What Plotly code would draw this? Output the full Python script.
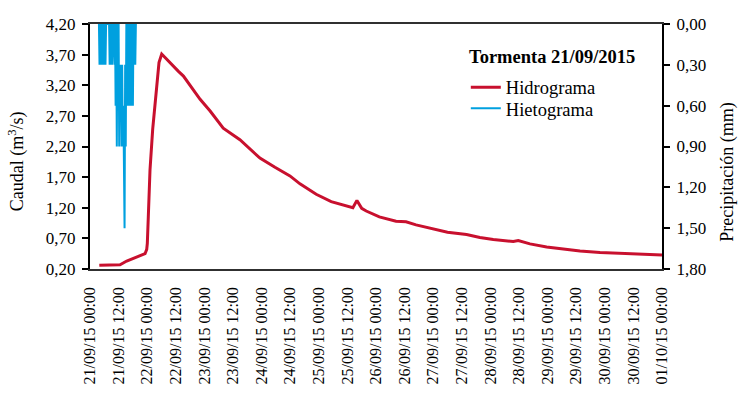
import pandas as pd
import plotly.graph_objects as go

# ---- data ----
start = pd.Timestamp("2015-09-21 00:00")

# Hidrograma: hours since 21/09/15 00:00 and flow (m3/s)
q_hours = [3.9, 8.0, 12.6, 15.4, 19.6, 21.0, 23.1, 23.8, 24.05, 24.46,
           25.18, 26.3, 27.57, 28.95, 30.09, 32.2, 35.0, 37.0, 39.2, 42.0,
           46.2, 50.4, 55.9, 62.9, 71.3, 77.6, 83.9, 88.1, 92.1, 94.9,
           101.2, 106.1, 110.3, 112.0, 114.0, 115.9, 121.4, 128.4, 132.6, 136.8,
           143.8, 150.0, 158.0, 163.6, 169.2, 174.8, 177.6, 179.7, 184.6, 191.6,
           197.2, 205.6, 214.0, 222.4, 230.8, 240.0]
q_values = [0.26, 0.26, 0.27, 0.33, 0.39, 0.41, 0.45, 0.52, 0.62, 1.05,
            1.82, 2.48, 3.02, 3.57, 3.71, 3.62, 3.51, 3.43, 3.35, 3.19,
            2.97, 2.78, 2.50, 2.31, 2.01, 1.86, 1.72, 1.59, 1.49, 1.42,
            1.30, 1.245, 1.20, 1.32, 1.19, 1.147, 1.05, 0.98, 0.97, 0.92,
            0.85, 0.80, 0.764, 0.715, 0.68, 0.655, 0.65, 0.666, 0.61, 0.56,
            0.53, 0.495, 0.47, 0.46, 0.445, 0.43]

# Hietograma: 15-min readings (hours since start) and precipitation (mm)
p_hours = [3.75, 4.0, 4.25, 4.5, 4.75, 5.0, 5.25, 5.5, 5.75, 6.0,
           6.25, 6.5, 6.75, 7.0, 7.25, 7.5, 7.75, 8.0, 8.25, 8.5,
           8.75, 9.0, 9.25, 9.5, 9.75, 10.0, 10.25, 10.5, 10.75, 11.0,
           11.25, 11.5, 11.75, 12.0, 12.25, 12.5, 12.75, 13.0, 13.25, 13.5,
           13.75, 14.0, 14.25, 14.5, 14.75, 15.0, 15.25, 15.5, 15.75, 16.0,
           16.25, 16.5, 16.75, 17.0, 17.25, 17.5, 17.75, 18.0, 18.25, 18.5,
           18.75, 19.0, 19.25]
p_values = [0, 0.3, 0, 0.3, 0, 0.3, 0, 0.3, 0, 0.3,
            0, 0.3, 0, 0, 0, 0, 0, 0, 0.3, 0,
            0.3, 0, 0.3, 0, 0, 0, 0.3, 0, 0.6, 0,
            0.9, 0, 0.6, 0, 0.9, 0.3, 0.6, 0.3, 0.9, 0.3,
            0.9, 0.6, 0.9, 1.5, 0.3, 0.9, 0, 0.6, 0, 0.6,
            0, 0.6, 0, 0.6, 0, 0.6, 0, 0.6, 0, 0.3,
            0, 0.3, 0]

legend_title = "Tormenta 21/09/2015"

q_time = [start + pd.Timedelta(hours=h) for h in q_hours]
p_time = [start + pd.Timedelta(hours=h) for h in p_hours]

FONT = "Liberation Serif"

fig = go.Figure()
fig.add_trace(go.Scatter(x=q_time, y=q_values, mode="lines", name="Hidrograma",
                         line=dict(color="#C8102E", width=3), yaxis="y",
                         legend="legend"))
fig.add_trace(go.Scatter(x=p_time, y=p_values, mode="lines", name="Hietograma",
                         line=dict(color="#00A0DF", width=2), yaxis="y2",
                         legend="legend2"))

leg_common = dict(xanchor="left", yanchor="middle", bgcolor="rgba(0,0,0,0)",
                  borderwidth=0,
                  font=dict(family=FONT, size=18.5, color="black"))

fig.update_layout(
    width=738, height=417,
    margin=dict(l=90, r=76, t=24, b=148, autoexpand=False),
    paper_bgcolor="white", plot_bgcolor="white",
    separators=",.",
    font=dict(family=FONT, size=17, color="black"),
    showlegend=True,
    legend=dict(x=0.657, y=0.740, **leg_common),
    legend2=dict(x=0.657, y=0.654, **leg_common),
    xaxis=dict(
        type="date",
        range=[start, start + pd.Timedelta(days=10)],
        tick0=start, dtick=12 * 3600 * 1000,
        tickformat="%d/%m/%y %H:%M",
        tickangle=-90,
        tickfont=dict(family=FONT, size=16, color="black"),
        ticklabelstandoff=10,
        showgrid=False, zeroline=False,
        showline=True, linecolor="#303030", linewidth=1.5, mirror=True,
        ticks="", automargin=False,
    ),
    yaxis=dict(
        range=[0.2, 4.2], tick0=0.2, dtick=0.5, tickformat=".2f",
        showgrid=False, zeroline=False,
        showline=True, linecolor="black", linewidth=2,
        ticks="outside", ticklen=6, tickwidth=1.5, tickcolor="black",
        ticklabelstandoff=3,
        tickfont=dict(family=FONT, size=17, color="black"),
        automargin=False,
    ),
    yaxis2=dict(
        range=[1.8, 0], tick0=0, dtick=0.3, tickformat=".2f",
        overlaying="y", side="right",
        showgrid=False, zeroline=False,
        showline=True, linecolor="black", linewidth=2,
        ticks="outside", ticklen=6, tickwidth=1.5, tickcolor="black",
        ticklabelstandoff=3,
        tickfont=dict(family=FONT, size=17, color="black"),
        automargin=False,
    ),
    annotations=[
        dict(text="<b>" + legend_title + "</b>", xref="paper", yref="paper",
             x=0.659, y=0.867, xanchor="left", yanchor="middle",
             showarrow=False,
             font=dict(family=FONT, size=18.5, color="black")),
        dict(text="Caudal (m<sup>3</sup>/s)", xref="paper", yref="paper",
             x=-0.1276, y=0.44, xanchor="center", yanchor="middle",
             textangle=-90, showarrow=False,
             font=dict(family=FONT, size=18, color="black")),
        dict(text="Precipitación (mm)", xref="paper", yref="paper",
             x=1.1154, y=0.393, xanchor="center", yanchor="middle",
             textangle=-90, showarrow=False,
             font=dict(family=FONT, size=18, color="black")),
    ],
)

fig.write_html("out.html",
               config={"displayModeBar": False},
               post_script="document.body.style.margin='0';"
                           "document.body.style.padding='0';")
